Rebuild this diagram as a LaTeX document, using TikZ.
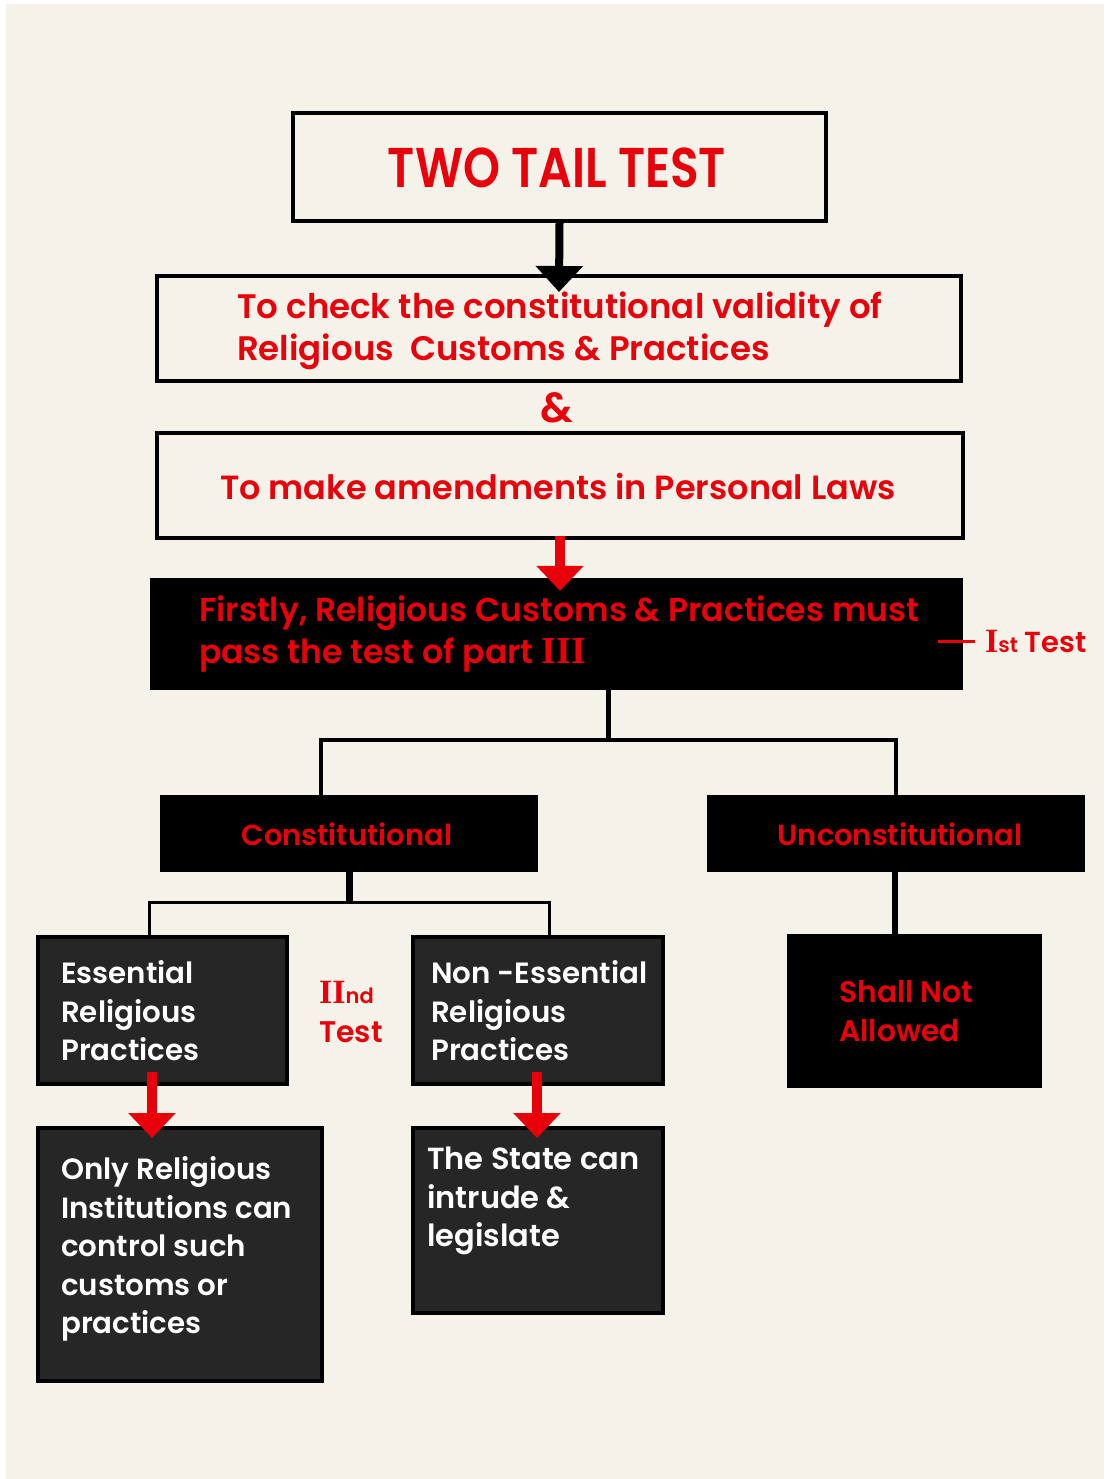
\documentclass[tikz,border=0pt]{standalone}
\usepackage{fontspec}
\setmainfont{Poppins}[BoldFont={* SemiBold}]
\newfontfamily\serifnum{Liberation Serif}
\usetikzlibrary{arrows.meta,calc}
\definecolor{bg}{RGB}{245,242,234}
\definecolor{rd}{RGB}{232,0,10}
\definecolor{dk}{RGB}{38,38,38}
\begin{document}
\begin{tikzpicture}[x=1pt,y=-1pt,
  outlinebox/.style={rectangle, inner sep=0pt, draw=black, line width=4pt},
  blackbox/.style={rectangle, inner sep=0pt, fill=black},
  darkbox/.style={rectangle, inner sep=0pt, fill=dk, draw=black, line width=4pt},
  redtxt/.style={inner sep=0pt, text=rd, align=left, font=\bfseries\fontsize{33.5}{42}\selectfont},
  redmid/.style={inner sep=0pt, text=rd, align=left, font=\bfseries\fontsize{29}{38}\selectfont},
  whitetxt/.style={inner sep=0pt, text=white, align=left, font=\bfseries\fontsize{29.3}{38.5}\selectfont},
  redsmall/.style={inner sep=0pt, text=rd, align=left, font=\bfseries\fontsize{29.8}{38.5}\selectfont},
  blackarrow/.style={draw=black, line width=8pt, -{Triangle[width=46pt,length=26pt]}},
  redarrow/.style={draw=rd, line width=10pt, -{Triangle[width=46pt,length=25pt]}},
  thickconn/.style={draw=black, line width=5pt},
  thinconn/.style={draw=black, line width=3.5pt},
]
\useasboundingbox (0,0) rectangle (1108,1479);
\fill[white] (0,0) rectangle (1108,1479);
\fill[bg] (6,4) rectangle (1104,1479);

% boxes
\node[outlinebox, minimum width=533pt, minimum height=108pt] (title) at (559.5,167) {};
\node[outlinebox, minimum width=804pt, minimum height=105pt] (box2) at (559,328.5) {};
\node[outlinebox, minimum width=806pt, minimum height=105pt] (box3) at (560,485.5) {};
\node[blackbox, minimum width=813pt, minimum height=112pt] (box4) at (556.5,634) {};
\node[blackbox, minimum width=378pt, minimum height=77pt] (const) at (349,833.5) {};
\node[blackbox, minimum width=378pt, minimum height=77pt] (uncon) at (896,833.5) {};
\node[darkbox, minimum width=249pt, minimum height=147pt] (ess) at (162.5,1010.5) {};
\node[darkbox, minimum width=250pt, minimum height=147pt] (non) at (538,1010.5) {};
\node[blackbox, minimum width=255pt, minimum height=154pt] (shall) at (914.5,1011) {};
\node[darkbox, minimum width=284pt, minimum height=253pt] (only) at (180,1254.5) {};
\node[darkbox, minimum width=250pt, minimum height=185pt] (state) at (538,1220.5) {};

% texts
\node[inner sep=0pt, text=rd, font=\bfseries\fontsize{56}{60}\selectfont] (titletxt) at (557,168) {\scalebox{0.84}[1]{TWO TAIL TEST}};
\node[redtxt, font=\bfseries\fontsize{34}{42}\selectfont, anchor=west] (box2txt) at (237,331) {To check the constitutional validity of\\Religious\ \ Customs \& Practices};
\node[inner sep=0pt, text=rd, font=\bfseries\fontsize{42}{42}\selectfont] (amp) at (557,408) {\&};
\node[redtxt] (box3txt) at (558,487) {To make amendments in Personal Laws};
\node[redtxt, font=\bfseries\fontsize{33}{42}\selectfont, anchor=west] (box4txt) at (199,634) {Firstly, Religious Customs \& Practices must\\pass the test of part {\serifnum\fontsize{38}{38}\selectfont III}};
\node[redmid, anchor=west] (firsttest) at (985,641) {{\serifnum\fontsize{34}{34}\selectfont I}{\fontsize{21}{21}\selectfont st} Test};
\node[redmid] (consttxt) at (347,834) {Constitutional};
\node[redmid] (uncontxt) at (900,834) {Unconstitutional};
\node[whitetxt, anchor=west] (esstxt) at (61,1011) {Essential\\Religious\\Practices};
\node[redsmall, anchor=west] (secondtest) at (319,1012) {{\serifnum\fontsize{34}{34}\selectfont II}{\fontsize{21}{21}\selectfont nd}\\Test};
\node[whitetxt, anchor=west] (nontxt) at (431,1011) {Non -Essential\\Religious\\Practices};
\node[redsmall, anchor=west] (shalltxt) at (839,1011) {Shall Not\\Allowed};
\node[whitetxt, anchor=west] (onlytxt) at (61,1249) {Only Religious\\Institutions can\\control such\\customs or\\practices};
\node[whitetxt, font=\bfseries\fontsize{30.5}{38.5}\selectfont, anchor=west] (statetxt) at (427,1201) {The State can\\intrude \&\\legislate};

% connectors
\draw[blackarrow] (title.south) -- ($(box2.north)+(0,18)$);
\draw[redarrow] ($(box3.south)+(0,-4)$) -- ($(box4.north)+(3.5,13)$);
\draw[draw=rd, line width=3pt] (firsttest.west) ++(-10,0) coordinate (dashR) -- ++(-37,0) coordinate (dashL);

\coordinate (j1) at (608,740);
\draw[thickconn] ($(box4.south)+(51.5,0)$) -- (j1);
\draw[thinconn] ($(const.north)+(-28,0)$) |- (j1) -| (uncon.north);

\coordinate (j2) at (349,902);
\draw[draw=black, line width=7pt] (const.south) -- (j2);
\draw[draw=black, line width=3pt] ($(ess.north)+(-13.5,0)$) |- (j2) -| ($(non.north)+(11,0)$);

\draw[draw=black, line width=6pt] ($(uncon.south)+(-1,0)$) -- ($(shall.north)+(-19.5,0)$);

\draw[redarrow] ($(ess.south)+(-10.5,-14)$) -- ($(only.north)+(-28,12)$);
\draw[redarrow] ($(non.south)+(-1,-14)$) -- ($(state.north)+(-1,12)$);
\end{tikzpicture}
\end{document}
